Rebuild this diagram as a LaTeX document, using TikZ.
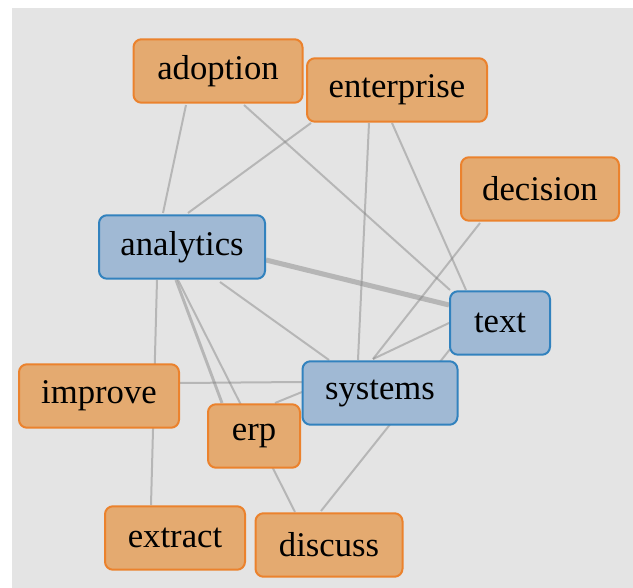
\documentclass[tikz,border=0pt]{standalone}
\usepackage{fontspec}
\setmainfont{Liberation Serif}
\usepackage{tikz}
\usetikzlibrary{calc}

\pgfdeclarelayer{back}
\pgfdeclarelayer{edges}
\pgfsetlayers{back,edges,main}

\begin{document}
\begin{tikzpicture}[x=0.75pt, y=-0.75pt,
    term/.style={line width=1.5pt, rounded corners=6pt, minimum height=47.6pt,
        inner xsep=4pt, inner ysep=0pt, font=\fontsize{26}{30}\selectfont},
    boxw/.style={minimum width=#1*0.75pt-1.5pt},
    keyterm/.style={term, fill=keyfill, draw=keyline, boxw=#1},
    wordterm/.style={term, fill=wordfill, draw=wordline, boxw=#1},
    link/.style={draw=gray, opacity=0.45, line width=1.5pt},
    heavylink/.style={link, line width=3.8pt}]
    % Define colors
    \definecolor{panel}{RGB}{228, 228, 228}
    \definecolor{keyfill}{RGB}{160, 185, 212}
    \definecolor{keyline}{RGB}{50, 130, 190}
    \definecolor{wordfill}{RGB}{228, 170, 112}
    \definecolor{wordline}{RGB}{235, 130, 45}

    \useasboundingbox (0, 0) rectangle (633, 588);
    \begin{pgfonlayer}{back}
        \fill[panel] (12, 8) rectangle (633, 588);
    \end{pgfonlayer}

    % Terms (box widths in px)
    \node[wordterm=171] (adoption)   at (218, 71)  {adoption};
    \node[wordterm=182] (enterprise) at (397, 90)  {enterprise};
    \node[wordterm=160] (decision)   at (540, 189) {decision};
    \node[keyterm=168]  (analytics)  at (182, 247) {analytics};
    \node[keyterm=102]  (text)       at (500, 323) {text};
    \node[keyterm=157]  (systems)    at (380, 393) {systems};
    \node[wordterm=162] (improve)    at (99, 396)  {improve};
    \node[wordterm=94]  (erp)        at (254, 436) {erp};
    \node[wordterm=142] (extract)    at (175, 538) {extract};
    \node[wordterm=149] (discuss)    at (329, 545) {discuss};

    % Links between terms
    \begin{pgfonlayer}{edges}
        \draw[link] ($(adoption)+(-32, 34)$) -- ($(analytics)+(-19, -34)$);
        \draw[link] ($(adoption)+(26, 34)$) -- ($(text)+(-50, -33)$);
        \draw[link] ($(enterprise)+(-86, 33)$) -- ($(analytics)+(6, -34)$);
        \draw[link] ($(enterprise)+(-28, 33)$) -- ($(systems)+(-22, -33)$);
        \draw[link] ($(enterprise)+(-5, 33)$) -- ($(text)+(-34, -33)$);
        \draw[link] ($(decision)+(-60, 34)$) -- ($(systems)+(-7, -34)$);
        \draw[heavylink] ($(analytics)+(84, 13)$) -- ($(text)+(-51, -18)$);
        \draw[link] ($(analytics)+(38, 35)$) -- ($(systems)+(-51, -33)$);
        \draw[link] ($(analytics)+(-25, 33)$) -- ($(extract)+(-24, -33)$);
        \draw[link, line width=2.2pt] ($(analytics)+(-6, 33)$) -- ($(erp)+(-32, -33)$);
        \draw[link] ($(analytics)+(-4, 33)$) -- ($(discuss)+(-34, -33)$);
        \draw[link] ($(improve)+(81, -13)$) -- ($(systems)+(-78, -11)$);
        \draw[link] ($(erp)+(21, -33)$) -- ($(systems)+(-78, -1)$);
        \draw[link] ($(systems)+(-7, -34)$) -- ($(text)+(-51, 0)$);
        \draw[link] ($(discuss)+(-8, -34)$) -- ($(text)+(-49, 25)$);
    \end{pgfonlayer}
\end{tikzpicture}
\end{document}
